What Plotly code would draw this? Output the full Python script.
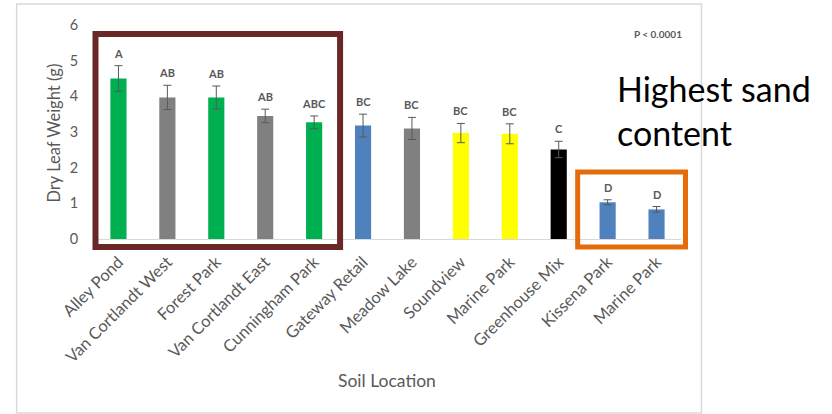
import plotly.graph_objects as go

locations = ["Alley Pond", "Van Cortlandt West", "Forest Park", "Van Cortlandt East",
             "Cunningham Park", "Gateway Retail", "Meadow Lake", "Soundview",
             "Marine Park", "Greenhouse Mix", "Kissena Park", "Marine Park"]
weights = [4.50, 3.97, 3.97, 3.45, 3.27, 3.18, 3.10, 2.97, 2.95, 2.51, 1.03, 0.83]
errors = [0.36, 0.34, 0.32, 0.19, 0.18, 0.32, 0.31, 0.27, 0.28, 0.23, 0.07, 0.08]
letters = ["A", "AB", "AB", "AB", "ABC", "BC", "BC", "BC", "BC", "C", "D", "D"]
colors = ["#00B050", "#808080", "#00B050", "#808080", "#00B050", "#4F81BD",
          "#808080", "#FFFF00", "#FFFF00", "#000000", "#4F81BD", "#4F81BD"]
y_ticks = [0, 1, 2, 3, 4, 5, 6]

W, H = 832, 414
L, R, T, B = 93.5, 681.5, 25, 239  # plot area in pixels


def px(x):
    return (x - L) / (R - L)


def py(y):
    return (B - y) / (B - T)


idx = list(range(len(locations)))
FONT = "Lato, Carlito, Calibri, sans-serif"
GRAY = "#595959"

fig = go.Figure()
fig.add_trace(go.Bar(
    x=idx, y=weights, width=0.33,
    marker=dict(color=colors, line=dict(width=0)),
    error_y=dict(type="data", array=errors, visible=True, color="#595959",
                 thickness=1, width=4),
    showlegend=False,
))

annotations = []
for i, (w, e, t) in enumerate(zip(weights, errors, letters)):
    annotations.append(dict(x=i, y=w + e, xref="x", yref="y", text=f"<b>{t}</b>",
                            showarrow=False, yanchor="bottom", yshift=4,
                            font=dict(family=FONT, size=11, color=GRAY)))

annotations += [
    dict(x=px(658), y=py(34), xref="paper", yref="paper", text="<b>P < 0.0001</b>",
         showarrow=False, xanchor="center", yanchor="middle",
         font=dict(family=FONT, size=10, color=GRAY)),
    dict(x=px(53), y=py(133), xref="paper", yref="paper", text="Dry Leaf Weight (g)",
         showarrow=False, textangle=-90, xanchor="center", yanchor="middle",
         font=dict(family=FONT, size=16.5, color=GRAY)),
    dict(x=px(387), y=py(380), xref="paper", yref="paper", text="Soil Location",
         showarrow=False, xanchor="center", yanchor="middle",
         font=dict(family=FONT, size=17.5, color=GRAY)),
    dict(x=px(615), y=py(66), xref="paper", yref="paper",
         text="Highest sand<br>content", showarrow=False, align="left",
         xanchor="left", yanchor="top",
         font=dict(family=FONT, size=34, color="#000000")),
]

shapes = [
    # chart border
    dict(type="rect", xref="paper", yref="paper", x0=px(16), x1=px(702),
         y0=py(413), y1=py(4), line=dict(color="#D9D9D9", width=1.5), layer="below"),
    # highlight boxes
    dict(type="rect", xref="paper", yref="paper", x0=px(95), x1=px(340),
         y0=py(247), y1=py(34), line=dict(color="#6B2626", width=6)),
    dict(type="rect", xref="paper", yref="paper", x0=px(578), x1=px(686),
         y0=py(247), y1=py(172), line=dict(color="#E46C0A", width=5)),
]

fig.update_layout(
    width=W, height=H,
    margin=dict(l=L, r=W - R, t=T, b=H - B, pad=0),
    paper_bgcolor="white", plot_bgcolor="white",
    font=dict(family=FONT, color=GRAY),
    annotations=annotations, shapes=shapes,
    bargap=0.67,
)
fig.update_xaxes(
    tickmode="array", tickvals=idx, ticktext=locations, tickangle=-45,
    range=[-0.5, len(locations) - 0.5], showgrid=False, zeroline=False,
    showline=True, linecolor="#D9D9D9", linewidth=1,
    ticks="outside", ticklen=6, tickcolor="rgba(0,0,0,0)",
    tickfont=dict(family=FONT, size=16.5, color=GRAY),
)
fig.update_yaxes(
    range=[0, 6], tickvals=y_ticks, showgrid=False, zeroline=False, showline=False,
    ticks="outside", ticklen=12, tickcolor="rgba(0,0,0,0)",
    tickfont=dict(family=FONT, size=14.5, color=GRAY),
)

fig.write_html("out.html")
